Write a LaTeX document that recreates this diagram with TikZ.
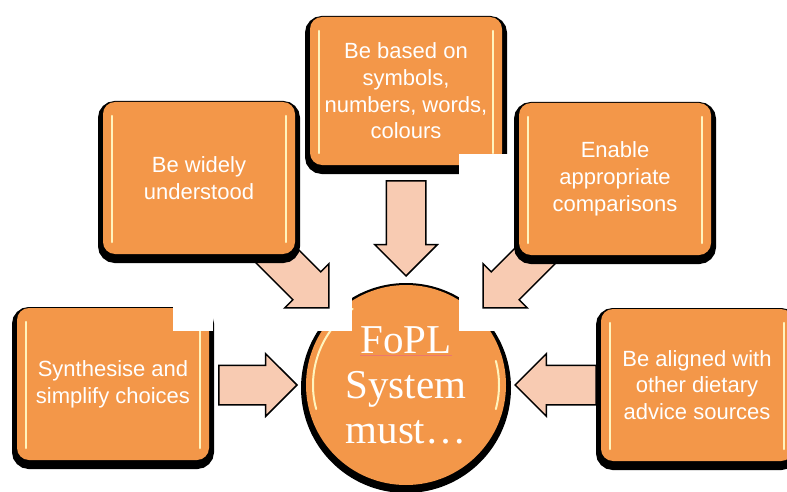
\documentclass[tikz,border=0pt]{standalone}
\usepackage{fontspec}
\setmainfont{Liberation Sans}
\newfontfamily\hubfont{Liberation Serif}
\usetikzlibrary{shapes.arrows,calc}
\definecolor{boxorange}{RGB}{243,151,73}
\definecolor{arrowpeach}{RGB}{248,203,178}
\definecolor{glintyellow}{RGB}{255,244,190}
\definecolor{spellred}{RGB}{236,120,110}

\begin{document}
\begin{tikzpicture}[x=1pt, y=1pt]
    % Define styles
    \tikzset{
        glint/.style={draw=glintyellow, line width=2.5pt, line cap=round},
        criterion/.style={fill=boxorange, rounded corners=12pt, minimum width=192pt, minimum height=152pt, inner sep=0pt, align=center, text=white, font=\fontsize{22}{26.7}\selectfont,
            preaction={fill=black, draw=black, line width=10pt, transform canvas={yshift=-4pt}},
            path picture={
                \draw[glint] ([xshift=9pt,yshift=-14pt]path picture bounding box.north west) -- ([xshift=9pt,yshift=12pt]path picture bounding box.south west);
                \draw[glint] ([xshift=-9pt,yshift=-14pt]path picture bounding box.north east) -- ([xshift=-9pt,yshift=12pt]path picture bounding box.south east);
            }},
        hub/.style={circle, fill=boxorange, minimum size=200pt, inner sep=0pt, align=center, text=white, font=\hubfont\fontsize{41}{45}\selectfont,
            preaction={fill=black, draw=black, line width=10pt, transform canvas={yshift=-3pt}},
            path picture={
                \draw[glint, line width=2pt] ($(path picture bounding box.center)+(125:93)$) arc[start angle=125, end angle=195, radius=93];
                \draw[glint, line width=2pt] ($(path picture bounding box.center)+(-15:93)$) arc[start angle=-15, end angle=15, radius=93];
            }},
        blockarrow/.style={single arrow, draw=black, line width=1.5pt, fill=arrowpeach, text height=38pt, text depth=0pt, minimum width=61pt, single arrow head extend=11.5pt, single arrow tip angle=90, inner sep=0pt, anchor=tip}
    }
    \useasboundingbox (0,0) rectangle (787,491);

    % Centre
    \node[hub] (hub) at (406,106) {{\color{spellred}\underline{\textcolor{white}{FoPL}}}\\System\\must…};

    % Boxes under the cut-outs
    \node[criterion, minimum height=148pt] (symbols) at (406,400) {Be based on\\symbols,\\numbers, words,\\colours};
    \node[criterion] (simplify) at (113,107) {Synthesise and\\simplify choices};

    % Cut-outs
    \fill[white] (173,160) rectangle (213,188);
    \fill[white] (300,160) rectangle (352,195);
    \fill[white] (459,160) rectangle (515,337);

    % Arrows into the centre
    \node[blockarrow, rotate=270, minimum height=95pt] (symbols_arrow) at ($(hub.center)+(90:108)$) {};
    \node[blockarrow, rotate=315, minimum height=95pt] (understood_arrow) at ($(hub.center)+(135:108)$) {};
    \node[blockarrow, rotate=225, minimum height=95pt] (compare_arrow) at ($(hub.center)+(45:108)$) {};
    \node[blockarrow, rotate=0, minimum height=78pt] (simplify_arrow) at ($(hub.center)+(180:108)$) {};
    \node[blockarrow, rotate=180, minimum height=81pt] (aligned_arrow) at ($(hub.center)+(0:108)$) {};

    % Boxes on top
    \node[criterion] (understood) at (199,313) {Be widely\\understood};
    \node[criterion] (compare) at (615,312) {Enable\\appropriate\\comparisons};
    \node[criterion] (aligned) at (697,106) {Be aligned with\\other dietary\\advice sources};
\end{tikzpicture}
\end{document}
